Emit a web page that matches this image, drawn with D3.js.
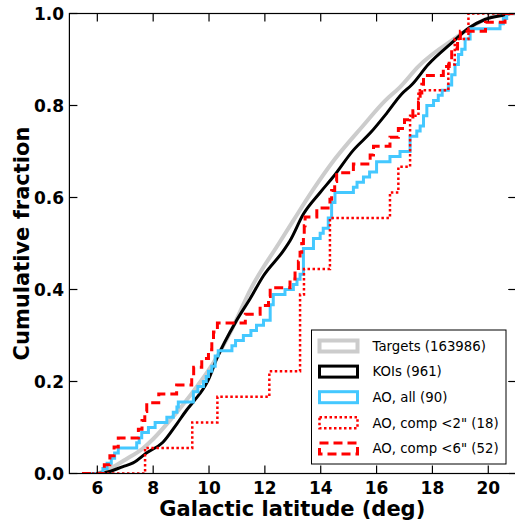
<!DOCTYPE html>
<html>
  <head>
    <meta charset="utf-8" />
    <title>Cumulative fraction</title>
    <style>
      body { margin: 0; background: #fff; }
      text { font-family: "DejaVu Sans", sans-serif; }
    </style>
  </head>
  <body>
  <div id="container"></div>
  <script src="https://cdn.jsdelivr.net/npm/d3@7"></script>
  <script type="text/javascript">

    // tick values
    var xTicks = [6, 8, 10, 12, 14, 16, 18, 20];
    var yTicks = [0, 0.2, 0.4, 0.6, 0.8, 1.0];

    var targetsX = [6.0, 6.5, 7.0, 7.64, 8.0, 8.61, 9.43, 10.15, 10.75, 11.5, 12.5, 13.0, 13.74, 14.5, 15.5, 16.3, 16.84, 17.5, 18.9, 19.5, 20.0, 20.6, 21];
    var targetsY = [0, 0.012, 0.03, 0.055, 0.075, 0.116, 0.178, 0.24, 0.305, 0.402, 0.5, 0.548, 0.618, 0.683, 0.755, 0.81, 0.84, 0.885, 0.95, 0.975, 0.99, 1.0, 1.0];

    // KOIs (961)
    var koiX = [6.0, 6.28, 6.92, 7.28, 7.77, 8.35, 8.85, 9.2, 9.43, 9.97, 10.28, 10.99, 11.47, 11.95, 12.66, 12.9, 13.38, 13.98, 14.45, 15.17, 15.77, 16.36, 16.9, 17.26, 17.85, 18.69, 19.29, 19.88, 20.6, 20.8, 21];
    var koiY = [0, 0.002, 0.015, 0.023, 0.045, 0.068, 0.108, 0.138, 0.155, 0.203, 0.25, 0.333, 0.38, 0.43, 0.484, 0.506, 0.564, 0.611, 0.645, 0.703, 0.74, 0.783, 0.825, 0.845, 0.889, 0.936, 0.968, 0.987, 0.997, 1.0, 1.0];

    // AO, all (90): jump positions and cumulative counts
    var aoAllX = [5.45, 6.2, 6.35, 6.5, 6.62, 6.75, 7.41, 7.5, 7.59, 7.83, 8.07, 8.49, 8.72, 8.85, 8.9, 9.44, 9.6, 9.8, 9.9, 9.98, 10.1, 10.22, 10.33, 10.82, 10.95, 11.23, 11.5, 11.7, 11.95, 12.19, 12.3, 12.72, 13.02, 13.15, 13.26, 13.38, 13.74, 13.98, 14.09, 14.27, 14.39, 14.51, 15.17, 15.3, 15.53, 15.75, 16.0, 16.48, 16.84, 17.2, 17.44, 17.56, 17.68, 17.8, 18.04, 18.21, 18.35, 18.57, 18.69, 18.81, 18.93, 19.05, 19.17, 19.35, 20.42, 20.54, 20.66];
    var aoAllN = [0, 1, 2, 3, 4, 5, 6, 7, 8, 9, 10, 11, 12, 13, 14, 16, 17, 18, 19, 20, 21, 23, 24, 25, 26, 27, 28, 29, 30, 33, 35, 36, 37, 38, 39, 44, 46, 47, 48, 50, 53, 55, 56, 57, 58, 59, 61, 62, 63, 66, 67, 68, 70, 72, 73, 74, 75, 76, 78, 80, 82, 83, 85, 87, 88, 89, 90];

    // AO, comp <2" (18)
    var comp2X = [5.45, 7.71, 9.40, 10.3, 12.16, 13.26, 13.40, 14.33, 16.48, 16.78, 17.2, 17.5, 18.57, 18.8, 19.29];
    var comp2N = [0, 1, 2, 3, 4, 7, 8, 10, 11, 12, 14, 15, 16, 17, 18];

    // AO, comp <6" (52)
    var comp6X = [5.45, 6.25, 6.45, 6.6, 6.75, 7.47, 7.6, 7.7, 7.77, 8.2, 8.84, 9.38, 9.45, 9.74, 9.98, 10.10, 10.16, 10.30, 11.3, 11.83, 12.13, 12.19, 12.9, 13.08, 13.2, 13.26, 13.32, 13.38, 13.41, 13.44, 13.86, 14.33, 14.39, 14.5, 14.57, 15.17, 15.77, 15.89, 16.48, 16.78, 17.0, 17.3, 17.5, 17.56, 17.62, 17.68, 18.39, 18.6, 18.69, 18.9, 19.0, 19.9, 20.6];
    var comp6N = [0, 1, 2, 3, 4, 5, 6, 7, 8, 9, 10, 11, 12, 13, 14, 15, 16, 17, 18, 19, 20, 21, 22, 23, 24, 25, 26, 27, 28, 29, 30, 31, 32, 33, 34, 35, 36, 37, 38, 39, 40, 41, 42, 43, 44, 45, 46, 47, 48, 49, 50, 51, 52];

    var legendLabels = ['Targets (163986)', 'KOIs (961)', 'AO, all (90)', 'AO, comp <2" (18)', 'AO, comp <6" (52)'];

    var width = 515;
    var height = 522;
    // plot box in pixels
    var boxL = 69.4, boxR = 516.2, boxT = 13.5, boxB = 473.5;

    var svg = d3.select('#container').append('svg')
      .attr('width', width).attr('height', height);

    var x = d3.scaleLinear().domain([5, 21]).range([boxL, boxR]);
    var y = d3.scaleLinear().domain([0, 1]).range([boxB, boxT]);

    svg.append('clipPath').attr('id', 'plotclip')
      .append('rect').attr('x', boxL).attr('y', boxT)
      .attr('width', boxR - boxL).attr('height', boxB - boxT);

    var plot = svg.append('g').attr('clip-path', 'url(#plotclip)');

    var smooth = d3.line().x(function(d){ return x(d[0]); }).y(function(d){ return y(d[1]); })
      .curve(d3.curveMonotoneX);
    var stairs = d3.line().x(function(d){ return x(d[0]); }).y(function(d){ return y(d[1]); })
      .curve(d3.curveStepAfter);

    // build step points from jump positions and counts, extended to right edge
    var toSteps = function(xs, ns, total){
      var pts = xs.map(function(v, i){ return [v, ns[i] / total]; });
      pts.push([21.5, ns[ns.length - 1] / total]);
      return pts;
    };

    var series = [
      {pts: d3.zip(targetsX, targetsY), gen: smooth, color: '#cccccc', w: 4, dash: null},
      {pts: d3.zip(koiX, koiY), gen: smooth, color: '#000000', w: 3, dash: null},
      {pts: toSteps(aoAllX, aoAllN, 90), gen: stairs, color: '#44c8ff', w: 3, dash: null},
      {pts: toSteps(comp2X, comp2N, 18), gen: stairs, color: '#ff0000', w: 2.5, dash: '2.5,2.5'},
      {pts: toSteps(comp6X, comp6N, 52), gen: stairs, color: '#ff0000', w: 3, dash: '9,5'}
    ];

    series.forEach(function(s){
      plot.append('path')
        .attr('d', s.gen(s.pts))
        .attr('fill', 'none')
        .attr('stroke', s.color)
        .attr('stroke-width', s.w)
        .attr('stroke-linejoin', 'miter')
        .attr('stroke-dasharray', s.dash);
    });

    // frame
    svg.append('rect').attr('x', boxL).attr('y', boxT)
      .attr('width', boxR - boxL).attr('height', boxB - boxT)
      .attr('fill', 'none').attr('stroke', '#000').attr('stroke-width', 1.2);

    // inward ticks on all four sides
    var tl = 8;
    xTicks.forEach(function(t){
      svg.append('line').attr('x1', x(t)).attr('x2', x(t)).attr('y1', boxB).attr('y2', boxB - tl)
        .attr('stroke', '#000').attr('stroke-width', 1.2);
      svg.append('line').attr('x1', x(t)).attr('x2', x(t)).attr('y1', boxT).attr('y2', boxT + tl)
        .attr('stroke', '#000').attr('stroke-width', 1.2);
      svg.append('text').attr('x', x(t)).attr('y', 493.5)
        .attr('text-anchor', 'middle').attr('font-size', 17).attr('font-weight', 'bold')
        .text(d3.format('d')(t));
    });
    yTicks.forEach(function(t){
      svg.append('line').attr('x1', boxL).attr('x2', boxL + tl).attr('y1', y(t)).attr('y2', y(t))
        .attr('stroke', '#000').attr('stroke-width', 1.2);
      svg.append('line').attr('x1', boxR).attr('x2', boxR - tl).attr('y1', y(t)).attr('y2', y(t))
        .attr('stroke', '#000').attr('stroke-width', 1.2);
      svg.append('text').attr('x', 64).attr('y', y(t) + 6)
        .attr('text-anchor', 'end').attr('font-size', 17).attr('font-weight', 'bold')
        .text(d3.format('.1f')(t));
    });

    // axis labels
    svg.append('text').attr('x', (boxL + boxR) / 2 - 0.5).attr('y', 516)
      .attr('text-anchor', 'middle').attr('font-size', 21).attr('font-weight', 'bold')
      .text('Galactic latitude (deg)');
    svg.append('text').attr('transform', 'translate(29,' + ((boxT + boxB) / 2) + ') rotate(-90)')
      .attr('text-anchor', 'middle').attr('font-size', 21).attr('font-weight', 'bold')
      .text('Cumulative fraction');

    // legend
    var lg = svg.append('g');
    lg.append('rect').attr('x', 311.5).attr('y', 330).attr('width', 194.5).attr('height', 134)
      .attr('fill', '#fff').attr('stroke', '#000').attr('stroke-width', 1);
    legendLabels.forEach(function(lab, i){
      var cy = 346 + i * 25.6;
      var s = series[i];
      lg.append('rect').attr('x', 319.5).attr('y', cy - 5.5).attr('width', 38).attr('height', 11)
        .attr('fill', 'none').attr('stroke', s.color).attr('stroke-width', s.w)
        .attr('stroke-dasharray', s.dash);
      lg.append('text').attr('x', 372.5).attr('y', cy + 4.8)
        .attr('font-size', 13.3).text(lab);
    });

  </script>
  </body>
</html>
